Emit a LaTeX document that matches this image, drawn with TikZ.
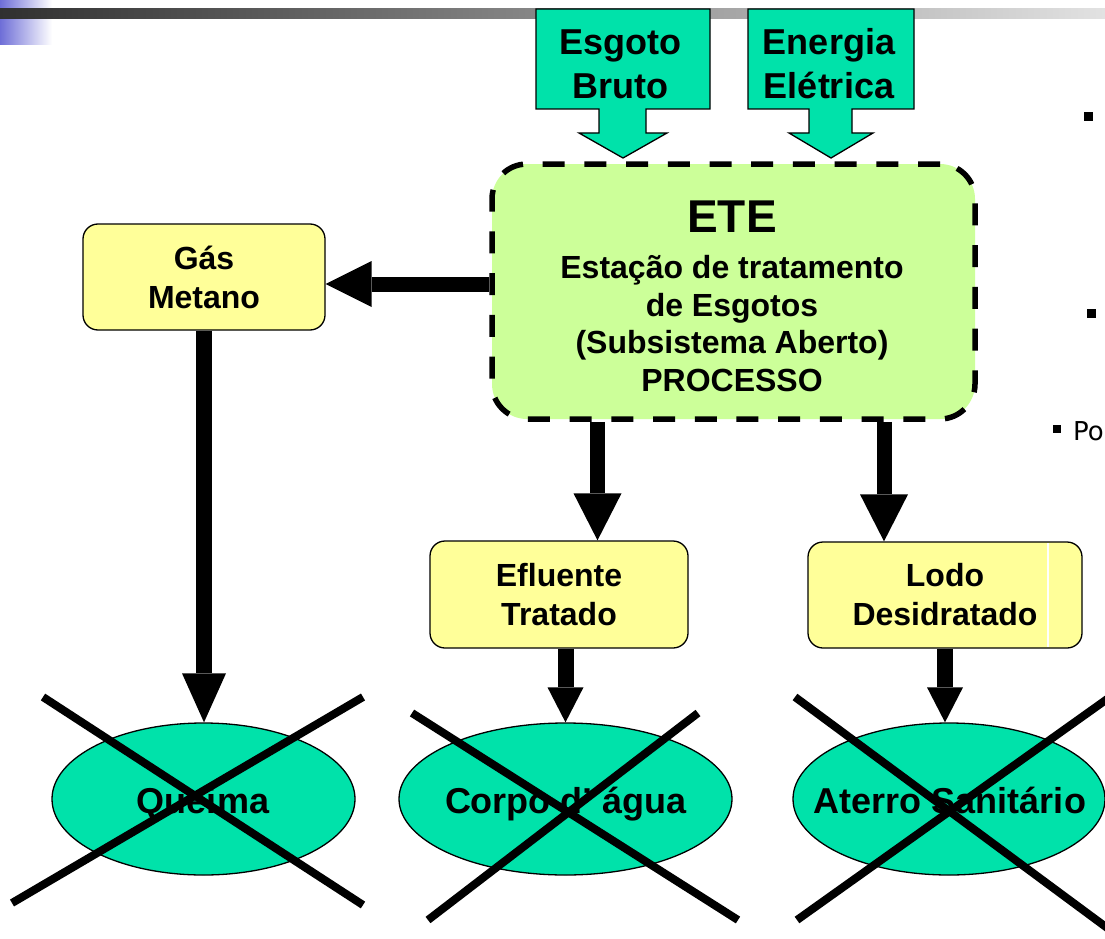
\documentclass[tikz,border=0pt]{standalone}
\usepackage{fontspec}
\setmainfont{Liberation Sans}
\newfontfamily\dejavu{DejaVu Sans}
\usetikzlibrary{arrows.meta,shapes.geometric,calc}
\definecolor{teal1}{RGB}{0,226,170}
\definecolor{yel}{RGB}{255,255,153}
\definecolor{lgreen}{RGB}{204,255,153}
\definecolor{barL}{RGB}{48,48,48}
\definecolor{barR}{RGB}{226,226,226}
\definecolor{blu}{RGB}{110,110,215}
\begin{document}
\begin{tikzpicture}[x=1pt,y=-1pt,
  ybox/.style={draw=black, line width=1.3pt, fill=yel, rounded corners=15pt, align=center,
    font=\fontsize{32}{39}\selectfont\bfseries, inner sep=0pt},
  oval/.style={ellipse, draw=black, line width=1.3pt, fill=teal1, inner sep=0pt,
    minimum width=304pt, minimum height=152pt},
  ovaltext/.style={font=\fontsize{36}{43}\selectfont\bfseries, inner sep=0pt, anchor=base},
  callout/.style={draw=black, line width=1.3pt, fill=teal1, line join=miter},
  calltext/.style={align=center, font=\fontsize{36}{44}\selectfont\bfseries, inner sep=0pt},
  etebox/.style={draw=black, dash pattern=on 22pt off 19.7pt, line width=5.5pt, fill=lgreen,
    rounded corners=35pt, minimum width=483pt, minimum height=255pt, inner sep=0pt},
  bigarrow/.style={draw=black, line width=15pt, -{Triangle[length=46pt, width=46pt, line width=0pt]}},
  medarrow/.style={draw=black, line width=16pt, -{Triangle[length=49pt, width=44pt, line width=0pt]}},
  smallarrow/.style={draw=black, line width=16pt, -{Triangle[length=35pt, width=36pt, line width=0pt]}},
  cross/.style={draw=black, line width=8pt},
  bullet/.style={fill=black}
]
\useasboundingbox (0,0) rectangle (1105,939);
\clip (0,0) rectangle (1105,939);
\fill[white] (0,0) rectangle (1105,939);
% header decoration
\shade[left color=blu, right color=white] (0,0) rectangle (52,45);
\shade[left color=barL, right color=barR] (0,9) rectangle (1105,19);

% input callouts
\filldraw[callout] (536,9) -- (710,9) -- (710,109) -- (646,109) -- (646,133) -- (667,133)
  -- (623,158) -- (579,133) -- (599,133) -- (599,109) -- (536,109) -- cycle;
\node[calltext] (esg) at (620,64) {Esgoto\\Bruto};
\filldraw[callout] (748,9) -- (914,9) -- (914,109) -- (852,109) -- (852,133) -- (873,133)
  -- (831,158) -- (789,133) -- (809,133) -- (809,109) -- (748,109) -- cycle;
\node[calltext] (ene) at (829,64) {Energia\\Elétrica};

% main process
\node[etebox] (ete) at (733.5,291.5) {};
\node[font=\fontsize{46}{52}\selectfont\bfseries, inner sep=0pt] (etetitle) at (732,217) {ETE};
\node[align=center, font=\fontsize{32}{37.7}\selectfont\bfseries, inner sep=0pt] (etebody) at (732,323.5)
  {Estação de tratamento\\de Esgotos\\(Subsistema Aberto)\\PROCESSO};

% outputs
\node[ybox, minimum width=242pt, minimum height=106pt] (gas) at (204,277) {Gás\\Metano};
\node[ybox, minimum width=258pt, minimum height=107pt] (eff) at (559,594.5) {Efluente\\Tratado};
\node[ybox, minimum width=274pt, minimum height=106pt] (lodo) at (945,595) {Lodo\\Desidratado};
\draw[white, line width=1.5pt] (1048,543) -- (1048,647);

% destinations
\node[oval, minimum width=303pt] (q) at (203.5,799) {};
\node[ovaltext] (qt) at (203,813) {Queima};
\node[oval, minimum width=333pt] (c) at (565.5,799) {};
\node[ovaltext] (ct) at (566,813) {Corpo d’ água};
\node[oval, minimum width=312pt] (a) at (949,799) {};
\node[ovaltext] (at) at (950,813) {Aterro Sanitário};

% connectors
\path (ete.west) ++(0,-7.5) coordinate (gstart);
\draw[bigarrow] (gstart) -- (gstart -| gas.east);
\path (ete.south) ++(-136,0) coordinate (e1);
\draw[bigarrow, -{Triangle[length=47pt, width=48pt, line width=0pt]}] (e1) -- (e1 |- eff.north);
\path (ete.south) ++(150.5,0) coordinate (e2);
\draw[bigarrow, -{Triangle[length=47pt, width=48pt, line width=0pt]}] (e2) -- (e2 |- lodo.north);
\draw[medarrow] (gas.south) -- (gas.south |- q.north);
\draw[smallarrow] (c.north |- eff.south) -- (c.north);
\draw[smallarrow] (lodo.south) -- (lodo.south |- a.north);

% crosses
\draw[cross] (43,697) -- (363,905);
\draw[cross] (363,697) -- (12,903);
\draw[cross] (412,713) -- (738,920);
\draw[cross] (698,713) -- (428,920);
\draw[cross] (795,697) -- (1110,930);
\draw[cross] (1110,697) -- (797,920);

% side bullets
\fill[bullet] (1084,112) rectangle (1093,121);
\fill[bullet] (1087,309) rectangle (1096,318);
\fill[bullet] (1053,425) rectangle (1061,433);
\node[font=\dejavu\fontsize{26}{31}\selectfont, anchor=base west, inner sep=0pt] (po) at (1073,440) {Po};
\end{tikzpicture}
\end{document}
